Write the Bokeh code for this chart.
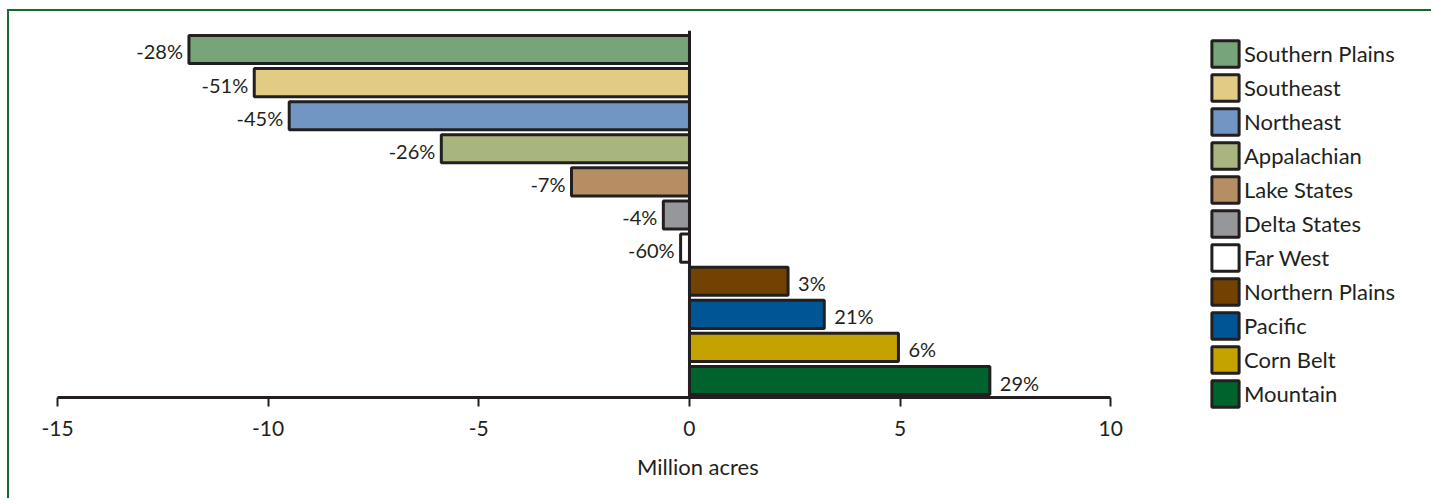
from bokeh.plotting import figure
from bokeh.models import ColumnDataSource, Legend, LegendItem, FixedTicker, Label
from bokeh.core.properties import value
from bokeh.embed import file_html
from bokeh.resources import INLINE

regions = ["Southern Plains", "Southeast", "Northeast", "Appalachian", "Lake States",
           "Delta States", "Far West", "Northern Plains", "Pacific", "Corn Belt", "Mountain"]
change_macres = [-11.88, -10.33, -9.5, -5.89, -2.8, -0.62, -0.21, 2.34, 3.2, 4.96, 7.13]
pct_change = [-28, -51, -45, -26, -7, -4, -60, 3, 21, 6, 29]
colors = ["#78a479", "#e1cb85", "#7196c3", "#a9b57f", "#b68e64", "#96979a", "#ffffff",
          "#744200", "#005594", "#c4a300", "#00622c"]
x_ticks = [-15, -10, -5, 0, 5, 10]
x_label = "Million acres"

FONT = "Lato"
INK = "#231f20"
n = len(regions)
ypos = [n - 1 - i for i in range(n)]
Y0, Y1 = -0.514, 10.574   # axis baseline and top of the zero line

src = ColumnDataSource(dict(y=ypos, right=change_macres, color=colors, name=regions))

p = figure(width=1424, height=489, output_backend="svg", toolbar_location=None,
           x_range=(-16.139, 17.66), y_range=(-3.625, 10.574),
           min_border_left=0, min_border_right=0, min_border_top=19, min_border_bottom=0)
p.styles = {"margin-left": "7px", "margin-top": "9px",
            "border-left": "2px solid #136b31", "border-top": "2px solid #136b31"}
p.outline_line_color = None
p.grid.visible = False
p.background_fill_color = "white"
p.border_fill_color = "white"

r = p.hbar(y="y", left=0, right="right", height=0.85, source=src,
           fill_color="color", line_color=INK, line_width=3)

neg = [i for i in range(n) if change_macres[i] < 0]
pos = [i for i in range(n) if change_macres[i] >= 0]
for idx, align, off in ((neg, "right", -6), (pos, "left", 10)):
    s = ColumnDataSource(dict(x=[change_macres[i] for i in idx], y=[ypos[i] for i in idx],
                              t=[f"{pct_change[i]}%" for i in idx]))
    p.text(x="x", y="y", text="t", source=s, text_align=align, text_baseline="middle",
           x_offset=off, y_offset=2, text_font=value(FONT), text_font_size="20px",
           text_color=INK)

# x axis drawn at the baseline
ax = p.xaxis[0]
ax.fixed_location = Y0
ax.ticker = FixedTicker(ticks=x_ticks)
ax.bounds = (-15, 10)
ax.axis_line_width = 3
ax.axis_line_color = INK
ax.major_tick_line_color = INK
ax.major_tick_line_width = 2
ax.major_tick_out = 9
ax.major_tick_in = 0
ax.minor_tick_line_color = None
ax.major_label_text_font = FONT
ax.major_label_text_font_size = "21px"
ax.major_label_text_color = INK
ax.major_label_standoff = 14
ax.major_label_overrides = {t: str(t) for t in x_ticks}

# zero line as y axis
ay = p.yaxis[0]
ay.fixed_location = 0
ay.bounds = (Y0, Y1)
ay.ticker = FixedTicker(ticks=[])
ay.axis_line_width = 3
ay.axis_line_color = INK
ay.major_tick_line_color = None
ay.minor_tick_line_color = None

p.add_layout(Label(x=0.2, y=34, y_units="screen", text=x_label, text_align="center",
                   text_baseline="middle", text_font=FONT, text_font_size="22px",
                   text_color=INK))

items = [LegendItem(label=regions[i], renderers=[r], index=i) for i in range(n)]
legend = Legend(items=items, location=(1199, 90), orientation="vertical",
                glyph_width=34, glyph_height=33, label_height=33, spacing=1,
                label_standoff=2, padding=0, margin=0,
                label_text_font=FONT, label_text_font_size="22px", label_text_color=INK,
                border_line_alpha=0, background_fill_alpha=0)
p.add_layout(legend)

open("out.html", "w").write(file_html(p, INLINE))
